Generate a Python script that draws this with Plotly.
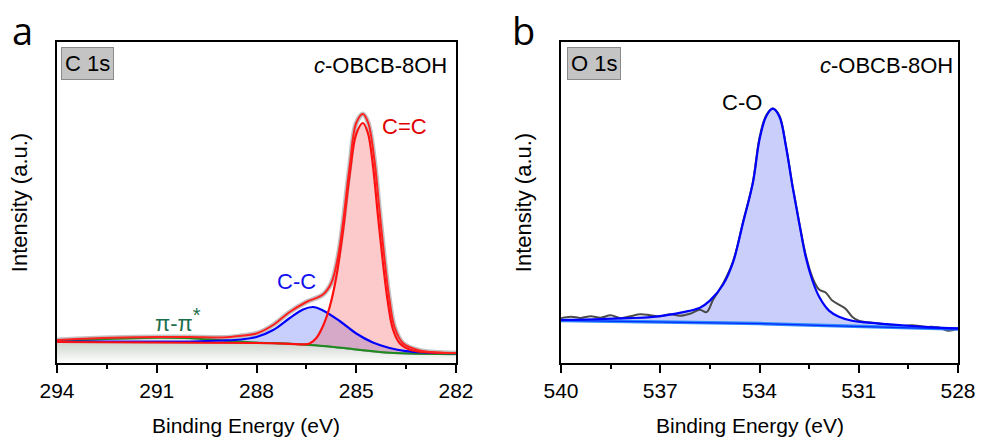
import plotly.graph_objects as go

W, H = 981, 441

# ---------------- C 1s (panel a) ----------------
c1s_base_x = [294, 291, 289, 288, 287, 286.5, 286, 285.5, 285, 284.5, 284, 283.5, 283, 282]
c1s_base_y = [21, 20.8, 20.4, 20, 19.2, 18.2, 17, 15.4, 13.5, 11.6, 10.2, 9.4, 9.1, 9]

cc_x = [294, 292, 290, 289, 288.5, 288, 287.5, 287, 286.6, 286.3, 286, 285.5, 285, 284.5, 284, 283.5, 283, 282]
cc_y = [21.5, 21.5, 21.5, 22.5, 23.5, 26, 33, 45, 53.5, 56, 52.5, 42, 29.5, 20.5, 15, 11.8, 10.5, 9.8]

ccd_x = [294, 288, 287, 286.6, 286.4, 286.2, 286.0, 285.8, 285.6, 285.4, 285.2, 285.0, 284.8,
         284.65, 284.5, 284.35, 284.2, 284.05, 283.9, 283.7, 283.4, 283, 282]
ccd_y = [21, 20, 19.2, 18.6, 19.5, 25, 37, 56, 86, 132, 188, 229, 240,
         230, 198, 148, 101, 61, 34, 20, 13.5, 11, 10]

pi_x = [294, 293, 292, 291, 290, 289, 288, 287, 286, 285, 284, 283, 282]
pi_y = [22.3, 23.3, 24.5, 25.2, 24.8, 22.5, 20.5, 19.3, 17.1, 13.6, 10.3, 9.2, 9]

env_x = [294, 293, 292, 291, 290, 289, 288.5, 288, 287.5, 287, 286.5, 286, 285.75, 285.55, 285.4,
         285.2, 285.0, 284.8, 284.64, 284.45, 284.3, 284.15, 284.0, 283.85, 283.6, 283.1, 282.5, 282]
env_y = [23, 24.5, 25.5, 26, 26, 25.5, 27, 29.5, 38, 51, 61, 68.5, 80, 106, 140,
         196, 240, 249, 240, 202, 152, 104, 63, 36, 20, 12.5, 10.5, 10]

# ---------------- O 1s (panel b) ----------------
o_base_x = [540, 536, 534, 532, 530, 528]
o_base_y = [42.3, 40.5, 39.2, 37.2, 35.3, 33.7]

co_x = [540, 539, 538, 537.3, 536.8, 536.3, 535.8, 535.5, 535.1, 534.8, 534.5, 534.2, 534.0, 533.8,
        533.6, 533.4, 533.2, 533.0, 532.8, 532.6, 532.4, 532.2, 531.9, 531.6, 531.2, 530.8, 530.2,
        529.5, 528.5, 528]
co_y = [42.7, 43.5, 44.5, 45.5, 47.5, 50.5, 55, 62, 78, 100, 139, 179, 222, 245,
        252.7, 245, 215, 175, 139, 105, 82, 66, 52, 46, 42, 40.3, 38.7,
        37, 35, 34.5]

o_raw_x = [540, 539.7, 539.4, 539.1, 538.8, 538.5, 538.2, 537.9, 537.6, 537.3, 537.0, 536.7, 536.4,
           536.1, 535.8, 535.6, 535.4, 535.1, 534.8, 534.5, 534.2, 534.0, 533.8, 533.6, 533.4, 533.2,
           533.0, 532.8, 532.6, 532.4, 532.2, 532.0, 531.8, 531.6, 531.4, 531.2, 531.0, 530.6, 530.2,
           529.8, 529.4, 529.0, 528.6, 528.3, 528]
o_raw_y = [44.5, 46, 44.8, 46.5, 45, 47.5, 44.5, 46.5, 48.5, 47.5, 46.5, 48.5, 47,
           49, 53, 50.5, 63, 79, 101, 140, 180, 224, 246, 253, 246, 216,
           176, 140, 107, 85, 73, 70, 62, 58, 54, 46, 42, 40, 38.5,
           36.5, 37.5, 36, 35.5, 32, 34]

c_ticks = [294, 291, 288, 285, 282]
o_ticks = [540, 537, 534, 531, 528]

FONT = "Liberation Sans, Arial, sans-serif"

fig = go.Figure()

def add(x, y, xa, ya, **kw):
    fig.add_trace(go.Scatter(x=x, y=y, xaxis=xa, yaxis=ya, mode="lines",
                             showlegend=False, hoverinfo="skip", **kw))

# Panel a: background region below baseline
add(c1s_base_x, c1s_base_y, "x", "y", line=dict(color="rgba(0,0,0,0)", width=0), fill="tozeroy",
    fillgradient=dict(type="vertical", colorscale=[[0, "rgba(255,255,255,1)"], [1, "rgba(205,212,205,1)"]]))
# C-C fill
add(c1s_base_x, c1s_base_y, "x", "y", line=dict(color="rgba(0,0,0,0)", width=0))
add(cc_x, cc_y, "x", "y", line=dict(color="rgba(0,0,0,0)", width=0, shape="spline"),
    fill="tonexty", fillcolor="rgba(90,110,245,0.33)")
# C=C fill
add(c1s_base_x, c1s_base_y, "x", "y", line=dict(color="rgba(0,0,0,0)", width=0))
add(ccd_x, ccd_y, "x", "y", line=dict(color="rgba(0,0,0,0)", width=0, shape="spline"),
    fill="tonexty", fillcolor="rgba(245,90,90,0.32)")
# raw data halo
add(env_x, env_y, "x", "y", line=dict(color="rgba(120,120,120,0.45)", width=5, shape="spline"))
# baseline
add(c1s_base_x, c1s_base_y, "x", "y", line=dict(color="#8c8c8c", width=2, shape="spline"))
# pi-pi*
add(pi_x, pi_y, "x", "y", line=dict(color="#1f8a1f", width=2, shape="spline"))
# C-C
add(cc_x, cc_y, "x", "y", line=dict(color="#0000ff", width=2.2, shape="spline"))
# C=C
add(ccd_x, ccd_y, "x", "y", line=dict(color="#ff1010", width=2.2, shape="spline"))
# envelope
add(env_x, env_y, "x", "y", line=dict(color="#ff2020", width=2, shape="spline"))

# Panel b
add(o_base_x, o_base_y, "x2", "y2", line=dict(color="rgba(0,0,0,0)", width=0))
add(co_x, co_y, "x2", "y2", line=dict(color="rgba(0,0,0,0)", width=0, shape="spline"),
    fill="tonexty", fillcolor="rgba(100,115,240,0.35)")
add(o_raw_x, o_raw_y, "x2", "y2", line=dict(color="#4a4a4a", width=2, shape="spline"))
add(o_base_x, o_base_y, "x2", "y2", line=dict(color="#2a8cff", width=3.5))
add(o_base_x, o_base_y, "x2", "y2", line=dict(color="#0a2aff", width=1.2))
add(co_x, co_y, "x2", "y2", line=dict(color="#0000ff", width=2.2, shape="spline"))

def px2x(px):
    return px / W

def py2y(py):
    return 1 - py / H

ydom = [py2y(363), py2y(42)]

common_x = dict(showline=True, linecolor="black", linewidth=1.5, mirror=True,
                ticks="outside", ticklen=8, tickwidth=1.5, tickcolor="black",
                showgrid=False, zeroline=False, automargin=False,
                tickfont=dict(family=FONT, size=21, color="black"),
                minor=dict(ticks="outside", ticklen=4, tickwidth=1.5, tickcolor="black", showgrid=False))
common_y = dict(showline=True, linecolor="black", linewidth=1.5, mirror=True, automargin=False,
                ticks="", showticklabels=False, showgrid=False, zeroline=False,
                title=dict(text="Intensity (a.u.)", font=dict(family=FONT, size=22, color="black"), standoff=22))

fig.update_layout(
    width=W, height=H,
    margin=dict(l=0, r=0, t=0, b=0, autoexpand=False),
    paper_bgcolor="white", plot_bgcolor="white",
    xaxis=dict(domain=[px2x(57), px2x(456)], range=[294, 282], anchor="y",
               tickvals=c_ticks, minor_dtick=1.5, minor_tick0=282, **common_x),
    yaxis=dict(domain=ydom, range=[0, 321], anchor="x", **common_y),
    xaxis2=dict(domain=[px2x(561), px2x(958)], range=[540, 528], anchor="y2",
                tickvals=o_ticks, minor_dtick=1.5, minor_tick0=528, **common_x),
    yaxis2=dict(domain=ydom, range=[0, 319], anchor="x2", **common_y),
)

ann = []
def text(px, py, s, size=22, color="black", xanchor="center", yanchor="middle", family=FONT, **kw):
    ann.append(dict(x=px2x(px), y=py2y(py), xref="paper", yref="paper", text=s, showarrow=False,
                    xanchor=xanchor, yanchor=yanchor, font=dict(family=family, size=size, color=color), **kw))

# x-axis titles
text(246, 425, "Binding Energy (eV)", size=21)
text(750, 425, "Binding Energy (eV)", size=21)
# panel labels
text(22, 30, "a", size=38, family="Open Sans, sans-serif")
text(523, 30, "b", size=38, family="Open Sans, sans-serif")
# element boxes
text(61, 47, "C 1s", xanchor="left", yanchor="top", bgcolor="#c4c4c4", bordercolor="#8a8a8a",
     borderwidth=1, borderpad=3)
text(567, 47, "O 1s", xanchor="left", yanchor="top", bgcolor="#c4c4c4", bordercolor="#8a8a8a",
     borderwidth=1, borderpad=3)
# sample names
text(449, 65, "<i>c</i>-OBCB-8OH", xanchor="right")
text(955, 65, "<i>c</i>-OBCB-8OH", xanchor="right")
# peak labels
text(404, 126, "C=C", color="#e00000")
text(296, 281, "C-C", color="#1010ee")
text(178, 320, "π-π<sup><span style='font-size:20px'>*</span></sup>", color="#1d6e4c")
text(742, 102, "C-O", color="black")

fig.update_layout(annotations=ann)
fig.write_html("out.html", config={"displayModeBar": False},
               post_script="document.body.style.margin='0';document.body.style.overflow='hidden';")
